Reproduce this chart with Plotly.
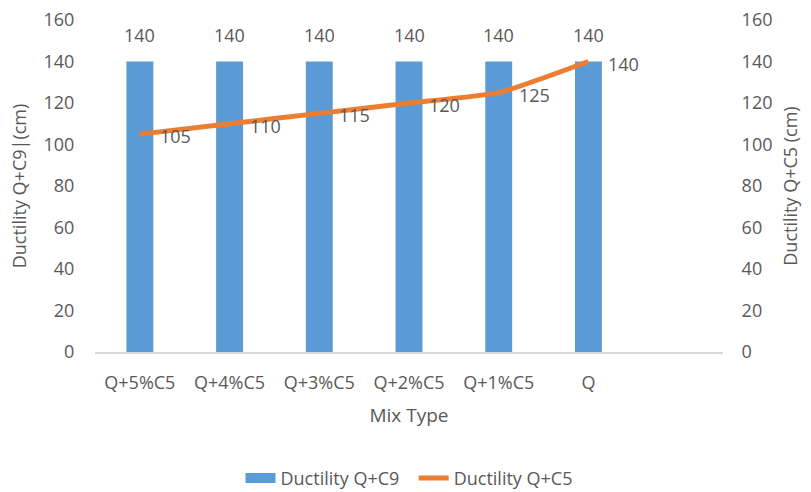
import plotly.graph_objects as go

categories = ["Q+5%C5", "Q+4%C5", "Q+3%C5", "Q+2%C5", "Q+1%C5", "Q"]
ductility_c9 = [140, 140, 140, 140, 140, 140]
ductility_c5 = [105, 110, 115, 120, 125, 140]
y_ticks = [0, 20, 40, 60, 80, 100, 120, 140, 160]

FONT = "Open Sans"
TXT = "#595959"
BLUE = "#5B9BD5"
ORANGE = "#ED7D31"
FS = 18

fig = go.Figure()
fig.add_trace(go.Bar(
    x=categories, y=ductility_c9, name="Ductility Q+C9",
    marker=dict(color=BLUE, line=dict(width=0)),
    width=0.3, showlegend=False,
))
fig.add_trace(go.Scatter(
    x=categories, y=ductility_c5, name="Ductility Q+C5", yaxis="y2",
    mode="lines",
    line=dict(color=ORANGE, width=5, shape="spline", smoothing=0.5),
    showlegend=False,
))
# legend entries
fig.add_trace(go.Scatter(x=[None], y=[None], mode="lines", name="Ductility Q+C9  ",
                         line=dict(color=BLUE, width=10)))
fig.add_trace(go.Scatter(x=[None], y=[None], mode="lines", name="Ductility Q+C5",
                         line=dict(color=ORANGE, width=5)))

annotations = []
for c, v in zip(categories, ductility_c9):
    annotations.append(dict(x=c, y=v, xref="x", yref="y", text=str(v), showarrow=False,
                            yanchor="bottom", yshift=13,
                            font=dict(family=FONT, size=FS, color=TXT)))
for c, v in zip(categories, ductility_c5):
    annotations.append(dict(x=c, y=v, xref="x", yref="y2", text=str(v), showarrow=False,
                            xanchor="left", xshift=18, yshift=-2,
                            font=dict(family=FONT, size=FS, color=TXT)))

fig.update_layout(
    width=811, height=492,
    margin=dict(l=95, r=88, t=20, b=140, autoexpand=False),
    paper_bgcolor="white", plot_bgcolor="white",
    font=dict(family=FONT, size=FS, color=TXT),
    showlegend=True,
    annotations=annotations,
    legend=dict(orientation="h", x=0.5, xanchor="center", yref="container",
                y=0.028, yanchor="middle",
                font=dict(family=FONT, size=FS, color=TXT)),
    xaxis=dict(
        type="category", categoryorder="array", categoryarray=categories,
        range=[-0.5, 6.5], showgrid=False, showline=True, linecolor="#D9D9D9",
        linewidth=2, ticks="outside", ticklen=13, tickcolor="rgba(0,0,0,0)",
        tickfont=dict(family=FONT, size=FS, color=TXT),
        title=dict(text="Mix Type", font=dict(family=FONT, size=19, color=TXT), standoff=16),
        zeroline=False, automargin=False,
    ),
    yaxis=dict(
        range=[0, 160], tickvals=y_ticks, showgrid=False, zeroline=False,
        showline=False, ticks="outside", ticklen=16, tickcolor="rgba(0,0,0,0)",
        tickfont=dict(family=FONT, size=FS, color=TXT), automargin=False,
        title=dict(text="Ductility Q+C9|(cm)", font=dict(family=FONT, size=FS, color=TXT), standoff=12),
    ),
    yaxis2=dict(
        range=[0, 160], tickvals=y_ticks, overlaying="y", side="right",
        showgrid=False, zeroline=False, showline=False,
        ticks="outside", ticklen=14, tickcolor="rgba(0,0,0,0)", automargin=False,
        tickfont=dict(family=FONT, size=FS, color=TXT),
        title=dict(text="Ductility Q+C5 (cm)", font=dict(family=FONT, size=FS, color=TXT), standoff=12),
    ),
)

fig.write_html("out.html")
